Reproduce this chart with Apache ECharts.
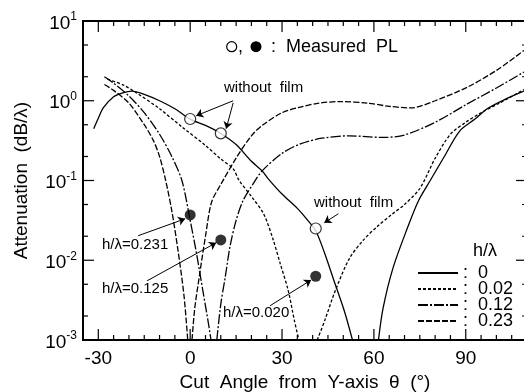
<!DOCTYPE html>
<html>
<head>
<meta charset="utf-8">
<script src="https://cdn.jsdelivr.net/npm/echarts@6/dist/echarts.min.js"></script>
<style>html,body{margin:0;padding:0;background:#fff}#chart{width:524px;height:392px}</style>
</head>
<body>
<div id="chart"></div>
<script>
const FONT = 'Liberation Sans, Arial, sans-serif';

// axis ticks
const xTicks = [-30, 0, 30, 60, 90];
const xMinor = [-25, -20, -15, -10, -5, 5, 10, 15, 20, 25, 35, 40, 45, 50, 55, 65, 70, 75, 80, 85, 95, 100, 105];
const yTicks = [0.001, 0.01, 0.1, 1, 10];
const yExp = ['-3', '-2', '-1', '0', '1'];
const yMinor = [0.002, 0.005, 0.02, 0.05, 0.2, 0.5, 2, 5];

// h/lambda = 0 (solid)
const x0a = [-31.5, -30, -28.4, -25, -22, -19, -15, -10, -5, 0, 5, 10, 15, 20, 23.5, 25.5, 30, 35, 38, 41, 44, 47, 50.3, 53];
const y0a = [0.447, 0.603, 0.813, 1.122, 1.259, 1.318, 1.202, 1.0, 0.794, 0.589, 0.49, 0.389, 0.282, 0.174, 0.132, 0.105, 0.0676, 0.0447, 0.0331, 0.0234, 0.012, 0.0055, 0.00234, 0.001];
const x0b = [61.5, 63, 66.3, 71, 74.6, 78.4, 83, 88, 93, 97, 103, 109];
const y0b = [0.001, 0.00251, 0.00813, 0.0257, 0.0562, 0.1, 0.2, 0.417, 0.589, 0.794, 1.047, 1.318];

// h/lambda = 0.02 (short dash)
const x002a = [-27, -22, -17.6, -10, -2.3, 5, 10, 14, 16, 20, 24, 27, 29.4, 32, 34, 35.5];
const y002a = [1.862, 1.585, 1.259, 0.794, 0.457, 0.275, 0.186, 0.141, 0.1, 0.0631, 0.038, 0.0186, 0.00912, 0.0042, 0.00178, 0.001];
const x002b = [41.5, 44, 47.4, 52, 56.5, 61, 66, 70, 75, 80, 85, 90, 95, 101, 109];
const y002b = [0.001, 0.00178, 0.00417, 0.0105, 0.0178, 0.0263, 0.038, 0.0501, 0.0794, 0.19, 0.38, 0.537, 0.708, 0.933, 1.38];

// h/lambda = 0.12 (dash-dot)
const x012a = [-28, -25, -20, -15, -10, -6, -2.7, 0, 2, 4, 6, 6.8];
const y012a = [2.0, 1.66, 1.148, 0.708, 0.38, 0.2, 0.1, 0.0316, 0.0126, 0.00447, 0.00158, 0.001];
const x012b = [8.7, 10, 11.5, 13, 15, 17.3, 20.6, 23.5, 30, 36, 43, 52, 63, 70, 80, 90.5, 100, 109];
const y012b = [0.001, 0.00282, 0.00631, 0.0148, 0.0316, 0.0562, 0.0912, 0.132, 0.219, 0.288, 0.339, 0.363, 0.347, 0.372, 0.537, 0.912, 1.445, 2.291];

// h/lambda = 0.23 (long dash)
const x023a = [-28, -25, -20, -15, -12, -10, -8, -6, -4, -2, -0.8];
const y023a = [1.6, 1.349, 0.933, 0.501, 0.316, 0.2, 0.1, 0.0417, 0.0135, 0.00355, 0.001];
const x023b = [0.6, 1.5, 3, 5, 7, 10, 15, 20, 23.5, 30, 36, 42, 49, 58, 65, 72, 80, 90.5, 100, 109];
const y023b = [0.001, 0.00251, 0.00631, 0.02, 0.0537, 0.0891, 0.191, 0.363, 0.49, 0.708, 0.832, 0.933, 0.977, 0.933, 0.851, 0.813, 1.0, 1.479, 2.399, 4.266];

// measured PL
const xOpen = [0, 10, 41];
const yOpen = [0.59, 0.39, 0.025];
const xFilled = [0, 10, 41];
const yFilled = [0.037, 0.018, 0.0063];

const zip = (xs, ys) => xs.map((x, i) => [x, ys[i]]);

const chart = echarts.init(document.getElementById('chart'));

const curve = (name, data, type) => ({
    name: name, type: 'line', data: data, symbol: 'none', smooth: 0.3,
    silent: true,
    lineStyle: { color: '#000', width: 1.3, type: type },
    itemStyle: { color: '#000' }
});

const dash002 = [3, 2];
const dash012 = [10, 2, 2, 2];
const dash023 = [6, 2];

const arrow = (a, b) => [{ coord: a }, { coord: b }];

const txt = (x, y, text, size) => ({
    type: 'text', x: x, y: y,
    style: { text: text, fontSize: size, fontFamily: FONT, fill: '#000', verticalAlign: 'middle' }
});

const labels = [
    { type: 'circle', shape: { cx: 231.7, cy: 46.7, r: 5 }, style: { fill: '#fff', stroke: '#000', lineWidth: 1.2 } },
    txt(238, 47, ',', 18),
    { type: 'circle', shape: { cx: 256, cy: 46.7, r: 5.5 }, style: { fill: '#000' } },
    txt(271, 47, ':  Measured  PL', 18),
    txt(224, 88, 'without  film', 15),
    txt(314, 203, 'without  film', 15),
    txt(102, 245, 'h/\u03bb=0.231', 15),
    txt(102, 289, 'h/\u03bb=0.125', 15),
    txt(223, 313, 'h/\u03bb=0.020', 15),
    txt(473, 251, 'h/\u03bb', 18)
];

const option = {
    animation: false,
    grid: { left: 83, top: 21, right: -3, bottom: 52, show: true, borderColor: '#000', borderWidth: 2, outerBoundsMode: 'none' },
    xAxis: {
        type: 'value', min: -35, max: 110,
        axisLine: { show: false }, axisTick: { show: false }, splitLine: { show: false },
        axisLabel: { customValues: xTicks, fontSize: 19, fontFamily: FONT, color: '#000', margin: 9 },
        name: 'Cut  Angle  from  Y-axis  \u03b8  (\u00b0)',
        nameLocation: 'middle', nameGap: 30,
        nameTextStyle: { fontSize: 19, fontFamily: FONT, color: '#000' }
    },
    yAxis: {
        type: 'log', logBase: 10, min: 0.001, max: 10,
        axisLine: { show: false }, axisTick: { show: false }, splitLine: { show: false }, minorTick: { show: false },
        axisLabel: {
            customValues: yTicks, margin: 6,
            formatter: v => {
                const i = yTicks.findIndex(t => Math.abs(Math.log10(t) - Math.log10(v)) < 1e-6);
                return '{b|10}{s|' + yExp[i] + '}';
            },
            rich: {
                b: { fontSize: 19, fontFamily: FONT, color: '#000', verticalAlign: 'bottom', lineHeight: 24 },
                s: { fontSize: 12, fontFamily: FONT, color: '#000', verticalAlign: 'bottom', lineHeight: 24, padding: [0, 0, 10, 0] }
            }
        },
        name: 'Attenuation  (dB/\u03bb)',
        nameLocation: 'middle', nameGap: 52,
        nameTextStyle: { fontSize: 19, fontFamily: FONT, color: '#000' }
    },
    legend: {
        data: ['0', '0.02', '0.12', '0.23'],
        orient: 'vertical', left: 412, top: 259,
        itemWidth: 40, itemHeight: 14, itemGap: -2,
        selectedMode: false,
        itemStyle: { color: 'rgba(0,0,0,0)', borderWidth: 0 },
        formatter: n => ':  ' + n,
        textStyle: { fontSize: 18, fontFamily: FONT, color: '#000', lineHeight: 14 }
    },
    series: [
        curve('0', zip(x0a, y0a), 'solid'),
        curve('0', zip(x0b, y0b), 'solid'),
        curve('0.02', zip(x002a, y002a), dash002),
        curve('0.02', zip(x002b, y002b), dash002),
        curve('0.12', zip(x012a, y012a), dash012),
        curve('0.12', zip(x012b, y012b), dash012),
        curve('0.23', zip(x023a, y023a), dash023),
        curve('0.23', zip(x023b, y023b), dash023),
        {
            name: 'without film', type: 'scatter', data: zip(xOpen, yOpen),
            symbol: 'circle', symbolSize: 11, silent: true, z: 5,
            itemStyle: { color: '#fff', borderColor: '#000', borderWidth: 1.2 },
            markLine: {
                silent: true, symbol: ['none', 'arrow'], symbolSize: 7,
                label: { show: false },
                lineStyle: { color: '#000', width: 1, type: 'solid' },
                data: [
                    arrow([14.05, 1.0], [1.96, 0.649]),
                    arrow([14.05, 0.944], [11.76, 0.446]),
                    arrow([48.4, 0.0383], [43.8, 0.0295])
                ]
            }
        },
        {
            name: 'with film', type: 'scatter', data: zip(xFilled, yFilled),
            symbol: 'circle', symbolSize: 11, silent: true, z: 5,
            itemStyle: { color: '#000' },
            markLine: {
                silent: true, symbol: ['none', 'arrow'], symbolSize: 7,
                label: { show: false },
                lineStyle: { color: '#000', width: 1, type: 'solid' },
                data: [
                    arrow([-17, 0.0203], [-1.63, 0.0331]),
                    arrow([-14.05, 0.00553], [8.5, 0.0166]),
                    arrow([26.1, 0.00269], [39.5, 0.00565])
                ]
            }
        }
    ]
};

chart.setOption(option);

// inward ticks on all four sides, placed through the axis scales
const toX = v => chart.convertToPixel({ xAxisIndex: 0 }, v);
const toY = v => chart.convertToPixel({ yAxisIndex: 0 }, v);
const plotLeft = toX(-35), plotRight = toX(110), plotTop = toY(10), plotBottom = toY(0.001);
const tick = (x1, y1, x2, y2) => ({
    type: 'line', shape: { x1: x1, y1: y1, x2: x2, y2: y2 },
    style: { stroke: '#000', lineWidth: 1.2 }
});
const ticks = [];
xTicks.forEach(v => { const x = toX(v); ticks.push(tick(x, plotBottom, x, plotBottom - 11), tick(x, plotTop, x, plotTop + 11)); });
xMinor.forEach(v => { const x = toX(v); ticks.push(tick(x, plotBottom, x, plotBottom - 5), tick(x, plotTop, x, plotTop + 5)); });
yTicks.forEach(v => { const y = toY(v); ticks.push(tick(plotLeft, y, plotLeft + 11, y), tick(plotRight, y, plotRight - 11, y)); });
yMinor.forEach(v => { const y = toY(v); ticks.push(tick(plotLeft, y, plotLeft + 5, y), tick(plotRight, y, plotRight - 5, y)); });

chart.setOption({ graphic: ticks.concat(labels) });
</script>
</body>
</html>
